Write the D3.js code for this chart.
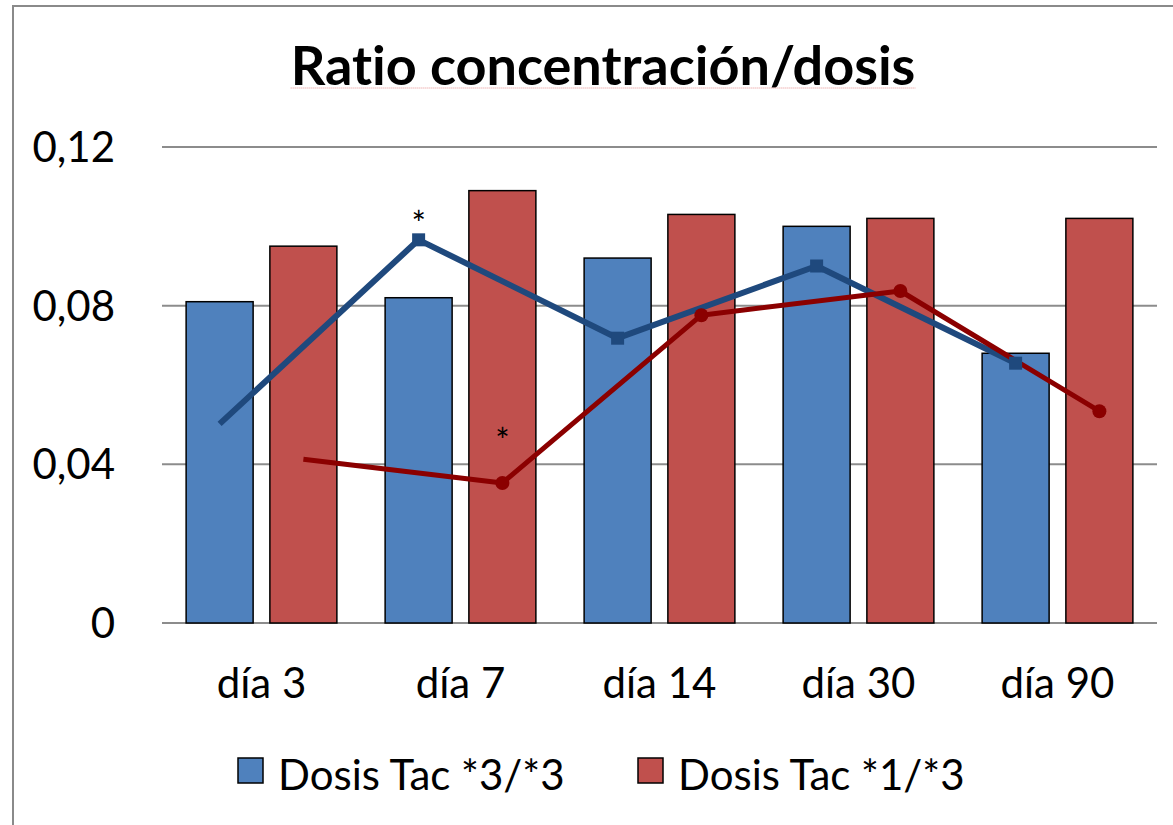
<!DOCTYPE html>
<html>
<head>
<meta charset="utf-8">
<script src="https://cdn.jsdelivr.net/npm/d3@7"></script>
<style>
  body { margin: 0; background: #fff; }
  text { font-family: Lato, "Open Sans", sans-serif; fill: #000; font-variant-ligatures: none; }
</style>
</head>
<body>
<div id="chart"></div>
<script>
// Datos
const categories = ['día 3', 'día 7', 'día 14', 'día 30', 'día 90'];
const seriesNames = ['Dosis Tac *3/*3', 'Dosis Tac *1/*3'];
const barsTac33 = [0.081, 0.082, 0.092, 0.100, 0.068];
const barsTac13 = [0.095, 0.109, 0.103, 0.102, 0.102];
const ratioTac33 = [0.0502, 0.0966, 0.0718, 0.0900, 0.0655];
const ratioTac13 = [0.0413, 0.0353, 0.0776, 0.0837, 0.0534];
const yTicks = [0, 0.04, 0.08, 0.12];
// asteriscos de significación: serie y categoría
const asterisks = [
  { series: 0, category: 'día 7' },
  { series: 1, category: 'día 7' }
];

const W = 1173, H = 825;
const margin = { top: 147, right: 16, bottom: 202, left: 162 };
const width = W - margin.left - margin.right;
const height = H - margin.top - margin.bottom;

const barColors = ['#4F81BD', '#C0504D'];
const lineColors = ['#1F497D', '#8B0000'];

const svg = d3.select('#chart').append('svg')
  .attr('width', W).attr('height', H);

// Borde del área del gráfico
svg.append('line').attr('x1', 13).attr('x2', W).attr('y1', 6).attr('y2', 6)
  .attr('stroke', '#8a8a8a').attr('stroke-width', 2);
svg.append('line').attr('x1', 13).attr('x2', 13).attr('y1', 5).attr('y2', H)
  .attr('stroke', '#8a8a8a').attr('stroke-width', 2);

// Título
const title = svg.append('text')
  .attr('x', 603).attr('y', 85)
  .attr('text-anchor', 'middle')
  .style('font-size', '54px').style('font-weight', 'bold')
  .text('Ratio concentración/dosis');
const tb = title.node().getBBox();
svg.append('line')
  .attr('x1', tb.x).attr('x2', tb.x + tb.width).attr('y1', 88).attr('y2', 88)
  .attr('stroke', '#e06060').attr('stroke-width', 1).attr('stroke-dasharray', '1,1')
  .attr('opacity', 0.7);

const g = svg.append('g').attr('transform', `translate(${margin.left},${margin.top})`);

// Escalas
const x0 = d3.scaleBand().domain(categories).range([0, width]).padding(0);
const x1 = d3.scaleBand().domain([0, 1]).range([0, x0.bandwidth()])
  .paddingInner(0.2).paddingOuter(0.288);
const y = d3.scaleLinear().domain([0, 0.12]).range([height, 0]);

// Líneas de cuadrícula
g.selectAll('.grid').data(yTicks).enter().append('line')
  .attr('x1', 0).attr('x2', width)
  .attr('y1', d => y(d)).attr('y2', d => y(d))
  .attr('stroke', '#8c8c8c').attr('stroke-width', 2);

// Etiquetas eje Y
g.selectAll('.ylab').data(yTicks).enter().append('text')
  .attr('x', -47).attr('y', d => y(d))
  .attr('dy', '0.36em')
  .attr('text-anchor', 'end')
  .style('font-size', '42px')
  .text(d => d === 0 ? '0' : d3.format('.2f')(d).replace('.', ','));

// Etiquetas eje X
g.selectAll('.xlab').data(categories).enter().append('text')
  .attr('x', d => x0(d) + x0.bandwidth() / 2)
  .attr('y', 698 - margin.top)
  .attr('text-anchor', 'middle')
  .style('font-size', '42px')
  .text(d => d);

// Barras
const barSeries = [barsTac33, barsTac13];
barSeries.forEach((vals, s) => {
  g.selectAll(`.bar${s}`).data(vals).enter().append('rect')
    .attr('x', (d, i) => x0(categories[i]) + x1(s))
    .attr('y', d => y(d))
    .attr('width', x1.bandwidth())
    .attr('height', d => height - y(d))
    .attr('fill', barColors[s])
    .attr('stroke', '#000').attr('stroke-width', 1.5);
});

// Líneas
const lineSeries = [ratioTac33, ratioTac13];
const px = (i, s) => x0(categories[i]) + x1(s) + x1.bandwidth() / 2;
lineSeries.forEach((vals, s) => {
  const line = d3.line().x((d, i) => px(i, s)).y(d => y(d));
  g.append('path').datum(vals)
    .attr('d', line)
    .attr('fill', 'none')
    .attr('stroke', lineColors[s])
    .attr('stroke-width', s === 0 ? 6 : 5)
    .attr('stroke-linejoin', 'round');
});

// Marcadores (sin marcador en el primer punto)
g.selectAll('.sq').data(ratioTac33.slice(1)).enter().append('rect')
  .attr('x', (d, i) => px(i + 1, 0) - 6.5)
  .attr('y', d => y(d) - 6.5)
  .attr('width', 13).attr('height', 13)
  .attr('fill', lineColors[0]);
g.selectAll('.dot').data(ratioTac13.slice(1)).enter().append('circle')
  .attr('cx', (d, i) => px(i + 1, 1))
  .attr('cy', d => y(d))
  .attr('r', 7)
  .attr('fill', lineColors[1]);

// Asteriscos
g.selectAll('.ast').data(asterisks).enter().append('text')
  .attr('x', d => px(categories.indexOf(d.category), d.series))
  .attr('y', d => y(lineSeries[d.series][categories.indexOf(d.category)]) - (d.series === 0 ? 4 : 30))
  .attr('text-anchor', 'middle')
  .style('font-size', '34px')
  .text('*');

// Leyenda
const legendX = [238, 638];
seriesNames.forEach((name, s) => {
  svg.append('rect')
    .attr('x', legendX[s]).attr('y', 758)
    .attr('width', 25).attr('height', 25)
    .attr('fill', barColors[s])
    .attr('stroke', '#000').attr('stroke-width', 1.5);
  svg.append('text')
    .attr('x', legendX[s] + 40).attr('y', 790)
    .style('font-size', '42px')
    .text(name);
});
</script>
</body>
</html>
